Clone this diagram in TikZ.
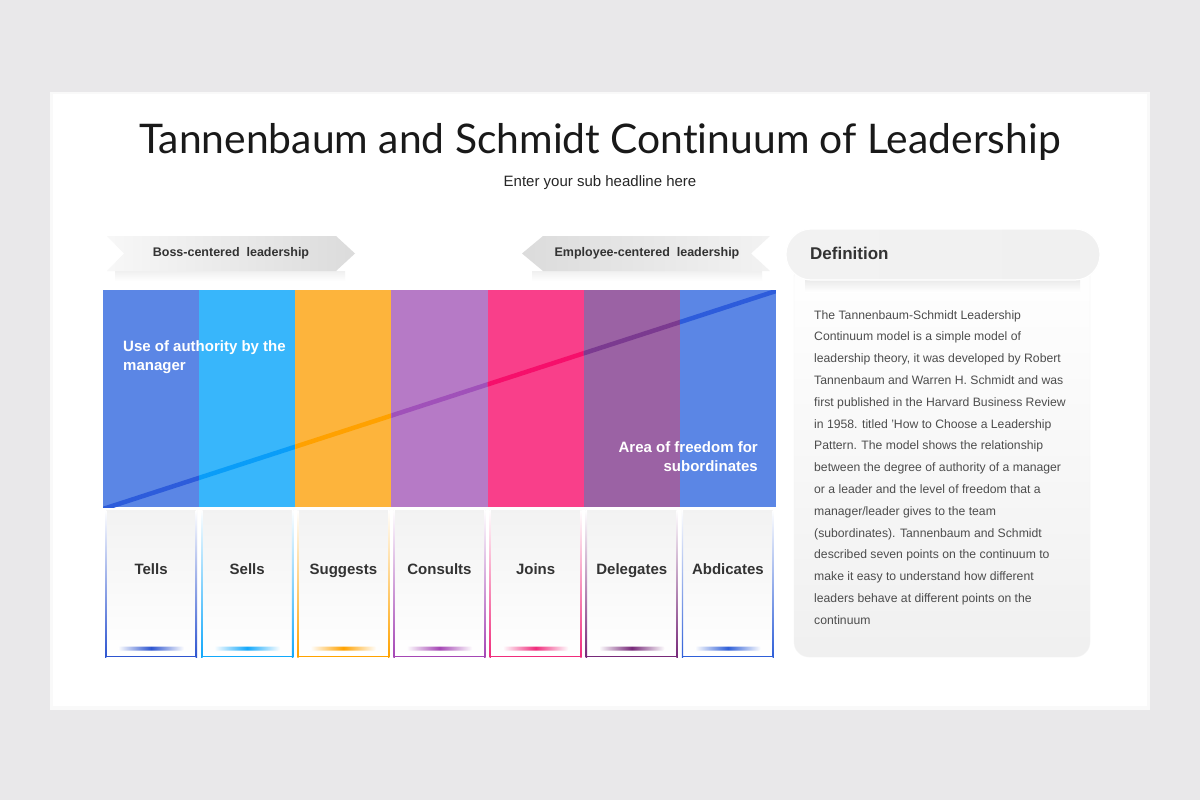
\documentclass[tikz,border=0pt]{standalone}
\usepackage{fontspec}
\setmainfont{Liberation Sans}
\newfontfamily\headfont[Ligatures=NoCommon]{Lato}
\definecolor{bg}{HTML}{E9E8EA}
\definecolor{txt}{HTML}{333333}
\definecolor{deftxt}{HTML}{4D4D4D}
\definecolor{cA}{HTML}{5B86E5}\definecolor{lA}{HTML}{2D5CDB}\definecolor{bA}{HTML}{2E55D0}
\definecolor{cB}{HTML}{38B6FB}\definecolor{lB}{HTML}{0A9DF8}\definecolor{bB}{HTML}{12A8FB}
\definecolor{cC}{HTML}{FDB43C}\definecolor{lC}{HTML}{FFA100}\definecolor{bC}{HTML}{FFA200}
\definecolor{cD}{HTML}{B67AC6}\definecolor{lD}{HTML}{A051B9}\definecolor{bD}{HTML}{A547B5}
\definecolor{cE}{HTML}{F93F8A}\definecolor{lE}{HTML}{F60F6B}\definecolor{bE}{HTML}{F02C7C}
\definecolor{cF}{HTML}{9B62A4}\definecolor{lF}{HTML}{7B3A90}\definecolor{bF}{HTML}{772979}
\definecolor{cG}{HTML}{5B86E5}\definecolor{lG}{HTML}{2D5CDB}\definecolor{bG}{HTML}{2F5FD8}
\begin{document}
\begin{tikzpicture}[x=1pt, y=-1pt, line join=round, line cap=round,
  headtxt/.style={font=\headfont\fontsize{40.8}{48}\selectfont, text=black!90, inner sep=0},
  subtxt/.style={font=\fontsize{15}{18}\selectfont, text=black!85, inner sep=0},
  bantxt/.style={font=\bfseries\fontsize{12.5}{15}\selectfont, text=txt, inner sep=0},
  coltxt/.style={font=\bfseries\fontsize{15}{19}\selectfont, text=white, inner sep=0},
  lbl/.style={font=\bfseries\fontsize{15}{18}\selectfont, text=txt, inner sep=0, anchor=base}]
	\useasboundingbox (0,0) rectangle (1200,800);
	\fill[bg] (0,0) rectangle (1200,800);
	\fill[black!2.5] (50,92) rectangle (1150,710);
	\fill[white] (53,94) rectangle (1147,706);
	% headings
	\node[headtxt] (title) at (600,142) {Tannenbaum and Schmidt Continuum of Leadership};
	\node[subtxt] (sub) at (600,183) {Enter your sub headline here};
	% banners
	\shade[top color=black!6, bottom color=white] (115,271) rectangle (345,281);
	\shade[top color=black!6, bottom color=white] (532,271) rectangle (762,281);
	\shade[left color=black!3, right color=black!14] (107,236)--(336,236)--(355,253.5)--(336,271)--(107,271)--(124,253.5)--cycle;
	\shade[left color=black!14, right color=black!5] (522,253.5)--(543,236)--(770,236)--(751,253.5)--(770,271)--(543,271)--cycle;
	\node[bantxt] (boss) at (231,253.5) {Boss-centered\ \ leadership};
	\node[bantxt] (empl) at (647,253.5) {Employee-centered\ \ leadership};
	% definition panel
	\shade[top color=white, bottom color=black!6, draw=black!4, rounded corners=15] (794,262) rectangle (1090,657);
	\shade[top color=black!8, bottom color=white] (805,280) rectangle (1080,292);
	\shade[left color=black!5, middle color=black!15, right color=black!6, draw=white, line width=1.2, rounded corners=25] (786,229) rectangle (1100,280);
	\node[font=\bfseries\fontsize{17}{20}\selectfont, text=txt, anchor=west, inner sep=0] (defhead) at (810,253.5) {Definition};
	\node[font=\fontsize{12.2}{21.8}\selectfont, text=deftxt, align=left, anchor=north west, inner sep=0] (deftext) at (814,310) {The Tannenbaum-Schmidt Leadership\\
	Continuum model is a simple model of\\
	leadership theory, it was developed by Robert\\
	Tannenbaum and Warren H. Schmidt and was\\
	first published in the Harvard Business Review\\
	in 1958. titled 'How to Choose a Leadership\\
	Pattern. The model shows the relationship\\
	between the degree of authority of a manager\\
	or a leader and the level of freedom that a\\
	manager/leader gives to the team\\
	(subordinates). Tannenbaum and Schmidt\\
	described seven points on the continuum to\\
	make it easy to understand how different\\
	leaders behave at different points on the\\
	continuum};
	% columns, diagonal and cards
	\foreach \i/\nm/\c/\l/\b in {0/Tells/cA/lA/bA, 1/Sells/cB/lB/bB, 2/Suggests/cC/lC/bC, 3/Consults/cD/lD/bD, 4/Joins/cE/lE/bE, 5/Delegates/cF/lF/bF, 6/Abdicates/cG/lG/bG}{
		\pgfmathsetmacro\xa{103+\i*96.14}
		\pgfmathsetmacro\xb{\xa+96.14}
		\pgfmathsetmacro\xm{\xa+48.07}
		\fill[\c] (\xa,290) rectangle (\xb,507);
		\begin{scope}
			\clip (\xa,290) rectangle (\xb,507);
			\draw[\l, line width=4.5, line cap=butt] (103,509)--(776,291);
		\end{scope}
		\shade[top color=black!5, bottom color=white] (\xa+2,510) rectangle (\xb-2,657);
		\shade[top color=white, bottom color=\b] (\xa+2,510) rectangle (\xa+3.4,657);
		\shade[top color=white, bottom color=\b] (\xb-3.4,510) rectangle (\xb-2,657);
		\fill[\b] (\xa+2,655.6) rectangle (\xb-2,657);
		\shade[left color=white, right color=white, middle color=\b, rounded corners=2] (\xm-33,646.5) rectangle (\xm+33,650.5);
		\node[lbl] (lbl-\i) at (\xm,574.5) {\nm};
	}
	\node[coltxt, align=left, anchor=north west] (authority) at (123,340) {Use of authority by the\\manager};
	\node[coltxt, align=right, anchor=north east] (freedom) at (758,441) {Area of freedom for\\subordinates};
\end{tikzpicture}
\end{document}
